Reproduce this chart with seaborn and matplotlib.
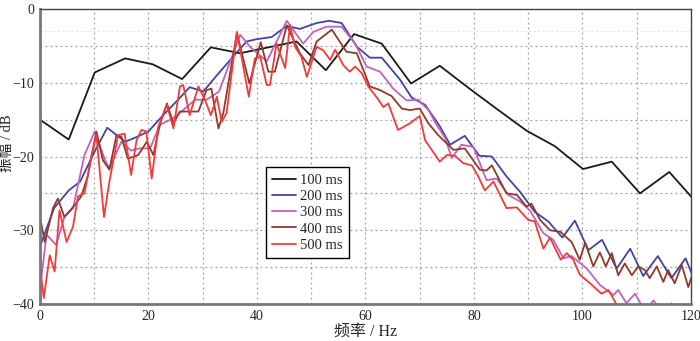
import numpy as np
import pandas as pd
import matplotlib
matplotlib.use("Agg")
import matplotlib.pyplot as plt
from matplotlib.ticker import MultipleLocator
import seaborn as sns

# window lengths (legend labels)
labels = ["100 ms", "200 ms", "300 ms", "400 ms", "500 ms"]
colors = ["#1a1a1a", "#4343a6", "#c262be", "#8e3b2c", "#f23a3a"]

# 100 ms spectrum
hz_100 = [0, 5.3, 10.1, 15.7, 20.8, 26.2, 31.5, 36.9, 42.1, 47.3, 52.7, 57.9, 63.0, 68.4,
          73.7, 79.0, 84.3, 89.7, 94.9, 100.1, 105.4, 110.6, 116.0, 121.2]
db_100 = [-15.0, -17.7, -8.6, -6.7, -7.5, -9.5, -5.2, -6.0, -5.2, -4.4, -8.3, -3.4, -4.7, -10.1,
          -7.7, -10.7, -13.6, -16.5, -18.6, -21.7, -20.7, -25.0, -22.1, -26.4]

# 200 ms spectrum
hz_200 = [0, 2.6, 5.3, 7.4, 10.1, 12.4, 15.7, 18.0, 20.0, 22.7, 25.2, 27.6, 30.1, 32.6, 35.3,
          38.1, 39.9, 42.7, 45.5, 47.9, 51.0, 53.3, 55.6, 58.4, 60.8, 63.0, 66.4, 68.5, 71.0,
          73.7, 75.6, 78.3, 81.0, 83.3, 86.0, 88.5, 91.2, 93.7, 96.3, 98.6, 101.1, 103.6,
          106.3, 108.8, 111.2, 113.9, 116.4, 119.0, 121.5]
db_200 = [-32.2, -27.0, -24.6, -23.4, -19.3, -16.1, -18.0, -17.3, -16.6, -14.4, -12.5, -10.6,
          -11.2, -9.0, -6.7, -4.4, -4.1, -3.8, -2.3, -2.7, -1.9, -1.6, -1.9, -5.1, -6.6, -6.6,
          -9.6, -12.0, -13.0, -15.9, -18.4, -17.2, -19.9, -20.0, -22.7, -24.8, -27.5, -28.8,
          -31.0, -28.7, -32.7, -31.3, -35.2, -32.5, -36.2, -33.5, -36.5, -33.8, -38.3]

# 300 ms spectrum
hz_300 = [0, 1.2, 3.0, 4.5, 6.1, 8.2, 10.1, 12.0, 12.8, 15.0, 16.8, 18.4, 20.3, 22.1, 24.6,
          26.4, 28.6, 30.7, 33.0, 36.9, 38.7, 41.8, 45.5, 48.5, 50.4, 52.8, 55.6, 58.1, 60.2,
          62.7, 65.1, 67.6, 69.7, 71.6, 73.1, 74.7, 75.9, 77.7, 79.9, 82.3, 84.2, 86.3, 88.5,
          90.3, 92.8, 94.6, 96.5, 98.0, 100.8, 103.2, 105.7, 106.6, 108.1, 109.7, 111.5,
          113.1, 114.6, 116.4, 118.0, 120.5]
db_300 = [-38.1, -30.6, -32.0, -28.2, -27.0, -19.8, -16.6, -20.5, -21.6, -18.0, -19.2, -18.9,
          -18.9, -15.7, -14.8, -13.7, -12.3, -12.3, -11.2, -3.5, -5.1, -7.1, -1.6, -4.7, -3.1,
          -2.4, -2.4, -4.7, -7.8, -8.5, -10.8, -12.4, -12.3, -13.7, -15.7, -17.5, -20.2, -18.4,
          -18.7, -23.2, -23.0, -25.2, -26.1, -27.3, -30.4, -31.3, -33.8, -33.5, -35.2, -37.4,
          -38.8, -38.1, -39.9, -38.6, -41.0, -39.5, -41.2, -39.9, -41.5, -42.5]

# 400 ms spectrum
hz_400 = [0, 0.9, 2.4, 3.3, 4.5, 6.4, 7.6, 8.8, 10.4, 11.6, 12.8, 14.1, 15.0, 16.2, 18.1,
          19.7, 20.9, 22.1, 23.4, 24.6, 25.8, 27.6, 29.2, 30.7, 31.6, 32.9, 33.8, 35.3, 36.3,
          38.6, 40.7, 42.1, 43.3, 45.5, 47.9, 49.5, 51.0, 53.8, 54.7, 56.5, 58.4, 60.8, 62.7,
          64.8, 66.7, 68.2, 70.0, 71.6, 73.4, 76.2, 78.3, 81.1, 82.3, 83.3, 86.0, 87.9, 89.7,
          90.6, 92.2, 94.0, 95.9, 98.0, 99.5, 100.5, 102.0, 103.2, 104.3, 105.4, 106.6, 107.8,
          109.1, 110.3, 111.5, 112.4, 113.7, 114.9, 115.8, 117.0, 118.3, 119.5, 120.7]
db_400 = [-28.2, -31.6, -27.0, -25.7, -28.2, -26.6, -25.4, -22.7, -16.6, -20.5, -21.8, -17.1,
          -17.3, -20.3, -19.8, -18.0, -19.8, -15.7, -12.8, -15.5, -13.9, -13.9, -13.9, -11.0,
          -10.8, -16.2, -14.1, -7.6, -3.3, -10.1, -4.5, -8.5, -8.5, -2.2, -6.0, -7.6, -4.4,
          -2.8, -3.8, -5.8, -6.0, -10.5, -11.0, -11.8, -13.5, -13.7, -13.5, -15.5, -17.1,
          -19.1, -18.9, -21.8, -21.9, -21.2, -25.0, -25.2, -26.8, -26.4, -28.6, -30.0, -30.2,
          -31.6, -34.0, -31.7, -34.9, -33.0, -34.9, -33.1, -36.1, -34.5, -36.1, -34.9, -35.4,
          -36.5, -34.9, -37.0, -35.4, -37.2, -34.7, -37.7, -35.0]

# 500 ms spectrum
hz_500 = [0, 0.7, 1.8, 2.7, 3.6, 4.9, 6.1, 7.0, 8.2, 9.5, 10.4, 11.8, 12.8, 14.4, 15.6, 16.8,
          17.8, 18.7, 19.6, 20.6, 21.8, 23.4, 24.6, 25.8, 26.4, 27.6, 29.2, 30.4, 31.5, 32.6,
          33.5, 34.4, 36.3, 38.5, 39.6, 40.6, 41.8, 42.4, 43.6, 45.2, 46.1, 47.0, 48.2, 49.2,
          51.0, 52.2, 53.5, 54.4, 55.9, 57.1, 58.1, 59.3, 60.5, 62.1, 63.3, 64.2, 66.0, 68.2,
          70.0, 71.0, 73.7, 75.0, 76.5, 78.0, 79.6, 80.8, 82.0, 83.6, 86.0, 87.9, 90.0, 91.2,
          92.8, 94.0, 96.0, 97.1, 98.3, 99.5, 101.4, 103.5, 104.8, 106.3, 108.0, 112.0, 120.0]
db_500 = [-34.9, -39.2, -33.4, -35.6, -27.3, -31.6, -29.5, -25.4, -25.0, -19.8, -17.1, -28.2,
          -23.4, -17.1, -16.9, -22.5, -17.8, -16.4, -16.6, -23.0, -16.0, -13.0, -16.2, -10.5,
          -10.3, -14.4, -10.5, -12.3, -14.4, -11.9, -15.3, -14.1, -3.1, -11.9, -6.7, -6.5,
          -10.3, -10.3, -4.7, -8.0, -2.2, -5.1, -6.5, -9.2, -5.1, -5.6, -6.9, -5.5, -7.6, -8.5,
          -7.8, -8.7, -10.5, -12.0, -13.3, -12.8, -16.4, -15.5, -14.5, -17.8, -20.7, -19.8,
          -19.9, -20.9, -21.2, -22.7, -24.6, -23.4, -27.0, -26.9, -28.6, -28.8, -32.5, -31.0,
          -34.0, -33.1, -34.0, -36.0, -37.2, -38.6, -38.1, -40.1, -41.5, -42.5, -43.0]

series = [(hz_100, db_100), (hz_200, db_200), (hz_300, db_300), (hz_400, db_400), (hz_500, db_500)]
frames = []
for lab, (hz, db) in zip(labels, series):
    frames.append(pd.DataFrame({"freq": hz, "amp": db, "window": lab}))
df = pd.concat(frames, ignore_index=True)

sns.set_style("white")
plt.rcParams['font.family'] = ['Liberation Serif', 'Noto Sans CJK SC']

fig = plt.figure(figsize=(7.0, 3.41), dpi=100)
ax = fig.add_axes([0.0571, 0.1085, 0.9300, 0.8651])

sns.lineplot(data=df, x="freq", y="amp", hue="window", hue_order=labels,
             palette=colors, sort=False, estimator=None, linewidth=1.3, ax=ax)

ax.set_xlim(0, 120)
ax.set_ylim(-40, 0)
ax.xaxis.set_major_locator(MultipleLocator(20))
ax.xaxis.set_minor_locator(MultipleLocator(10))
ax.yaxis.set_major_locator(MultipleLocator(10))
ax.yaxis.set_minor_locator(MultipleLocator(5))
ax.grid(True, which="both", linestyle=(0, (1.5, 2.5)), color="#a0a0a0", linewidth=0.9)
ax.axhline(-3, linestyle=(0, (1.5, 2.5)), color="#dddddd", linewidth=0.8, zorder=0)
ax.set_axisbelow(True)
ax.tick_params(which="both", length=0, labelsize=10, pad=4)

for side in ["left", "bottom"]:
    ax.spines[side].set_color("#777777")
    ax.spines[side].set_linewidth(2.0)
for side in ["top", "right"]:
    ax.spines[side].set_color("#444444")
    ax.spines[side].set_linewidth(1.0)

ax.set_xlabel("频率 / Hz", fontsize=11.5, labelpad=1)
ax.set_ylabel("振幅 / dB", fontsize=10.5)
ax.yaxis.set_label_coords(-0.040, 0.546)

handles, _ = ax.get_legend_handles_labels()
leg = ax.legend(handles, labels, loc="upper left", bbox_to_anchor=(0.347, 0.463),
                fontsize=10.5, frameon=True, fancybox=False, edgecolor="black",
                framealpha=1, handlelength=1.6, handletextpad=0.3, labelspacing=0.2,
                borderpad=0.45, borderaxespad=0)
leg.get_frame().set_linewidth(1.0)

fig.savefig("out.png", dpi=100)
